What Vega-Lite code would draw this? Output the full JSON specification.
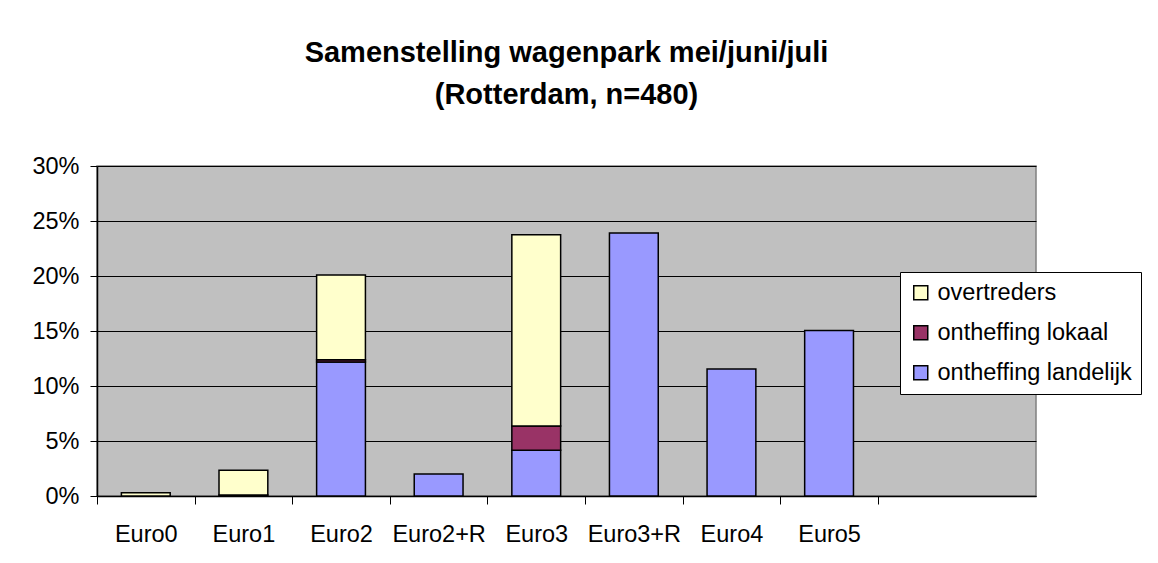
{
  "$schema": "https://vega.github.io/schema/vega-lite/v6.json",
  "autosize": {"type": "none"},
  "width": 939,
  "height": 330,
  "padding": {"left": 97, "top": 166, "right": 122, "bottom": 67},
  "background": "white",
  "title": {
    "text": ["Samenstelling wagenpark mei/juni/juli", "(Rotterdam, n=480)"],
    "font": "Liberation Sans",
    "fontSize": 29,
    "fontWeight": "bold",
    "color": "black",
    "anchor": "middle",
    "baseline": "bottom",
    "lineHeight": 42,
    "offset": 15
  },
  "data": {
    "values": [
      {"klasse": "Euro0", "categorie": "overtreders", "aandeel": 0.003},
      {"klasse": "Euro1", "categorie": "ontheffing lokaal", "aandeel": 0.001},
      {"klasse": "Euro1", "categorie": "overtreders", "aandeel": 0.0225},
      {"klasse": "Euro2", "categorie": "ontheffing landelijk", "aandeel": 0.1218},
      {"klasse": "Euro2", "categorie": "ontheffing lokaal", "aandeel": 0.002},
      {"klasse": "Euro2", "categorie": "overtreders", "aandeel": 0.077},
      {"klasse": "Euro2+R", "categorie": "ontheffing landelijk", "aandeel": 0.02},
      {"klasse": "Euro3", "categorie": "ontheffing landelijk", "aandeel": 0.0417},
      {"klasse": "Euro3", "categorie": "ontheffing lokaal", "aandeel": 0.022},
      {"klasse": "Euro3", "categorie": "overtreders", "aandeel": 0.1737},
      {"klasse": "Euro3+R", "categorie": "ontheffing landelijk", "aandeel": 0.239},
      {"klasse": "Euro4", "categorie": "ontheffing landelijk", "aandeel": 0.1155},
      {"klasse": "Euro5", "categorie": "ontheffing landelijk", "aandeel": 0.1504}
    ]
  },
  "mark": {"type": "bar", "width": {"band": 0.5}, "stroke": "black", "strokeWidth": 1.5},
  "encoding": {
    "x": {
      "field": "klasse",
      "type": "nominal",
      "sort": ["Euro0", "Euro1", "Euro2", "Euro2+R", "Euro3", "Euro3+R", "Euro4", "Euro5"],
      "scale": {"paddingInner": 0, "paddingOuter": 0.81, "align": 0},
      "axis": {
        "title": null,
        "labelAngle": 0,
        "tickBand": "extent",
        "tickSize": 8,
        "tickColor": "black",
        "domainColor": "black",
        "domainWidth": 1.5,
        "labelFont": "Liberation Sans",
        "labelFontSize": 23.5,
        "labelColor": "black",
        "labelPadding": 18,
        "grid": false
      }
    },
    "y": {
      "field": "aandeel",
      "type": "quantitative",
      "stack": "zero",
      "scale": {"domain": [0, 0.3], "nice": false},
      "axis": {
        "title": null,
        "format": ".0%",
        "values": [0, 0.05, 0.1, 0.15, 0.2, 0.25, 0.3],
        "tickSize": 7,
        "tickColor": "black",
        "domainColor": "black",
        "domainWidth": 1.5,
        "grid": true,
        "gridColor": "black",
        "gridWidth": 1,
        "gridOpacity": 1,
        "labelFont": "Liberation Sans",
        "labelFontSize": 23.5,
        "labelColor": "black",
        "labelPadding": 11
      }
    },
    "color": {
      "field": "categorie",
      "type": "nominal",
      "scale": {
        "domain": ["overtreders", "ontheffing lokaal", "ontheffing landelijk"],
        "range": ["#FFFFCC", "#993366", "#9999FF"]
      },
      "legend": {
        "title": null,
        "orient": "none",
        "legendX": 803,
        "legendY": 106,
        "fillColor": "white",
        "strokeColor": "black",
        "padding": 9,
        "symbolType": "square",
        "symbolSize": 196,
        "symbolStrokeColor": "black",
        "symbolStrokeWidth": 1.5,
        "symbolOpacity": 1,
        "labelFont": "Liberation Sans",
        "labelFontSize": 23.5,
        "labelColor": "black",
        "labelOffset": 5,
        "rowPadding": 15,
        "labelLimit": 400
      }
    },
    "order": {"field": "categorie", "sort": "ascending"}
  },
  "config": {
    "view": {"fill": "#C0C0C0", "stroke": "#808080", "strokeWidth": 1.5}
  }
}
